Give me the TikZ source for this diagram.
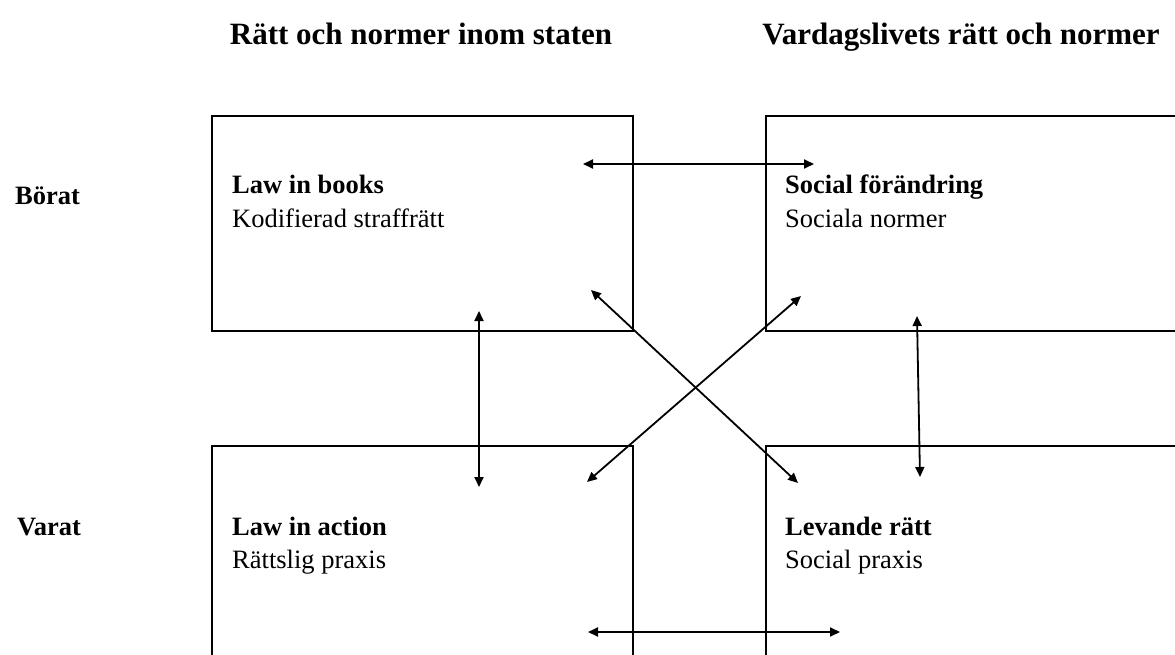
\documentclass[tikz,border=0pt]{standalone}
\usepackage{fontspec}
\setmainfont{Liberation Serif}
\usetikzlibrary{arrows.meta,positioning}
\begin{document}
\begin{tikzpicture}[x=1pt,y=-1pt,
    field/.style={draw,line width=2pt,minimum width=421pt,minimum height=215pt,inner sep=0pt,anchor=north west},
    link/.style={line width=1.8pt,{Triangle[length=10pt,width=9pt]}-{Triangle[length=10pt,width=9pt]}},
    head/.style={font=\fontsize{31}{36}\selectfont\bfseries,anchor=base},
    side/.style={font=\fontsize{26.5}{31}\selectfont\bfseries,anchor=base west,inner sep=0pt},
    txt/.style={font=\fontsize{26.5}{31}\selectfont,anchor=base west,inner sep=0pt}
  ]
    \useasboundingbox (0,0) rectangle (1175,655);
    \clip (0,0) rectangle (1175,655);

    % Column and row headings
    \node[head] (colstate) at (421,45) {Rätt och normer inom staten};
    \node[head] (colevery) at (961,45) {Vardagslivets rätt och normer};
    \node[side] (rowought) at (15,205) {Börat};
    \node[side] (rowis) at (17,535) {Varat};

    % The four fields
    \node[field] (books) at (211,115) {};
    \node[field] (social) at (765,115) {};
    \node[field] (action) at (211,445) {};
    \node[field] (living) at (765,445) {};

    % Texts in the fields
    \node[txt] (booksA) at (232,194) {\bfseries Law in books};
    \node[txt] (booksB) at (232,228) {Kodifierad straffrätt};
    \node[txt] (socialA) at (785,194) {\bfseries Social förändring};
    \node[txt] (socialB) at (785,228) {Sociala normer};
    \node[txt] (actionA) at (232,535) {\bfseries Law in action};
    \node[txt] (actionB) at (232,568) {Rättslig praxis};
    \node[txt] (livingA) at (785,535) {\bfseries Levande rätt};
    \node[txt] (livingB) at (785,568) {Social praxis};

    % Arrow ends
    \coordinate (topL) at (583,164);
    \coordinate (topR) at (814,164);
    \coordinate (botL) at (588,632);
    \coordinate (botR) at (840,632);
    \coordinate (leftU) at (479,311);
    \coordinate (leftD) at (479,487);
    \coordinate (rightU) at (917,316);
    \coordinate (rightD) at (920,477);
    \coordinate (crossA) at (591,290);
    \coordinate (crossB) at (798,483);
    \coordinate (crossC) at (801,296);
    \coordinate (crossD) at (587,482);

    % Double arrows
    \draw[link] (topL) -- (topR);
    \draw[link] (botL) -- (botR);
    \draw[link] (leftU) -- (leftD);
    \draw[link] (rightU) -- (rightD);
    \draw[link] (crossA) -- (crossB);
    \draw[link] (crossC) -- (crossD);
\end{tikzpicture}
\end{document}
